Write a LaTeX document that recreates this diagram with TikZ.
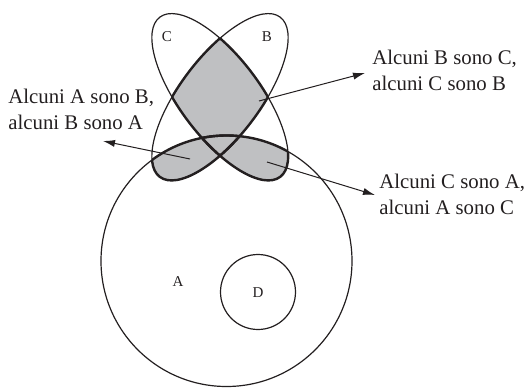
\documentclass[tikz,border=0pt]{standalone}
\usepackage{fontspec}
\setmainfont{Liberation Serif}
\usetikzlibrary{arrows.meta}
\definecolor{ink}{HTML}{231F20}
\definecolor{fillgrey}{HTML}{BFC0C2}
\tikzset{
  setline/.style={draw=ink,line width=0.6pt},
  overlap/.style={draw=ink,line width=1.2pt},
  setname/.style={font=\fontsize{7.5}{9}\selectfont,text=ink,inner sep=0pt},
  note/.style={font=\fontsize{10.4}{12.6}\selectfont,text=ink,align=left,anchor=north west,inner sep=0pt},
  pointer/.style={-{Latex[length=6pt,width=3.6pt]},draw=ink,line width=0.5pt},
  elB/.style={rotate around={53:(220,290)}},
  elC/.style={rotate around={-53:(220,290)}}}

\begin{document}
\begin{tikzpicture}[x=0.5pt,y=0.5pt]
  \useasboundingbox (0,0) rectangle (531,387);
  % grey overlaps
  \begin{scope}
    \clip[elB] (220,290) ellipse [x radius=100,y radius=40];
    \fill[fillgrey,elC] (220,290) ellipse [x radius=100,y radius=40];
    \fill[fillgrey] (226.5,126) circle [radius=125.5];
  \end{scope}
  \begin{scope}
    \clip[elC] (220,290) ellipse [x radius=100,y radius=40];
    \fill[fillgrey] (226.5,126) circle [radius=125.5];
  \end{scope}
  % heavier edges round the overlaps
  \begin{scope}
    \clip[elB] (220,290) ellipse [x radius=100,y radius=40];
    \draw[overlap,elC] (220,290) ellipse [x radius=100,y radius=40];
    \draw[overlap] (226.5,126) circle [radius=125.5];
  \end{scope}
  \begin{scope}
    \clip[elC] (220,290) ellipse [x radius=100,y radius=40];
    \draw[overlap,elB] (220,290) ellipse [x radius=100,y radius=40];
    \draw[overlap] (226.5,126) circle [radius=125.5];
  \end{scope}
  \begin{scope}
    \clip (226.5,126) circle [radius=125.5];
    \draw[overlap,elB] (220,290) ellipse [x radius=100,y radius=40];
    \draw[overlap,elC] (220,290) ellipse [x radius=100,y radius=40];
  \end{scope}
  % the four sets
  \draw[setline] (226.5,126) circle [radius=125.5];
  \draw[setline] (258,95) circle [radius=37.5];
  \draw[setline,elB] (220,290) ellipse [x radius=100,y radius=40];
  \draw[setline,elC] (220,290) ellipse [x radius=100,y radius=40];
  \node[setname] (cname) at (167,350) {C};
  \node[setname] (bname) at (267,350) {B};
  \node[setname] (aname) at (178,105) {A};
  \node[setname] (dname) at (258,94) {D};
  \node[note] (ab) at (8,298) {Alcuni A sono B,\\alcuni B sono A};
  \node[note] (bc) at (372,337) {Alcuni B sono C,\\alcuni C sono B};
  \node[note] (ca) at (379,213) {Alcuni C sono A,\\alcuni A sono C};
  \coordinate (abin) at (190,228);
  \coordinate (abtip) at (103,246);
  \coordinate (bcin) at (259,286);
  \coordinate (bctip) at (365,314);
  \coordinate (cain) at (267,225);
  \coordinate (catip) at (375,192);
  \draw[pointer] (abin) -- (abtip);
  \draw[pointer] (bcin) -- (bctip);
  \draw[pointer] (cain) -- (catip);
\end{tikzpicture}
\end{document}
